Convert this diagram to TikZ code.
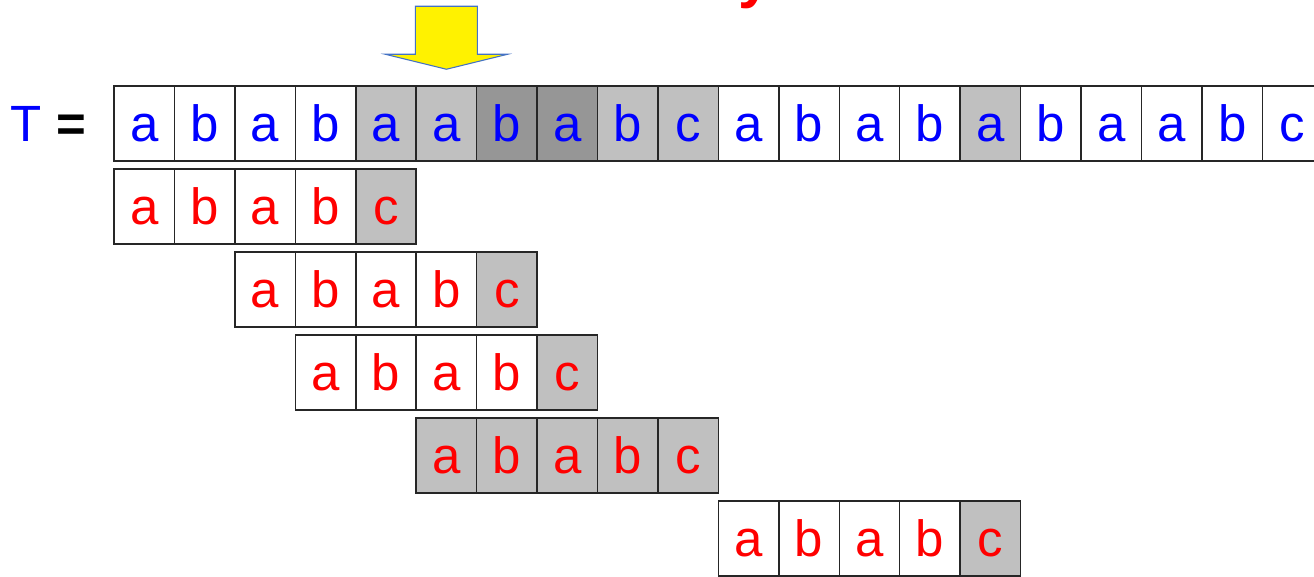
\documentclass[tikz,border=0pt]{standalone}
\usepackage{fontspec}
\setmainfont{Liberation Sans}
\definecolor{lightgrey}{HTML}{C0C0C0}
\definecolor{darkgrey}{HTML}{969696}
\definecolor{arrowblue}{HTML}{4472C4}
\definecolor{pureblue}{RGB}{0,0,255}
\definecolor{purered}{RGB}{255,0,0}

\tikzset{
  cell/.style={draw=black!85, line width=0.7pt, minimum width=1cm,
    minimum height=1.24cm, inner sep=0pt, text height=0.6cm, text depth=0pt,
    font=\fontsize{24}{28}\selectfont},
  txtcell/.style={cell, text=pureblue},
  patcell/.style={cell, text=purered},
}

\begin{document}
\begin{tikzpicture}
    % Page frame
    \useasboundingbox[fill=white] (0,0) rectangle (21.74,-9.53);

    % Cut-off title letter at the top
    \node (title) at (12.5,0.06) [anchor=base, text=purered, font=\bfseries\fontsize{28}{32}\selectfont] {y};

    % Text row
    \node (tlabel) at (0.8,-2.043) [text height=0.6cm, text depth=0pt, font=\fontsize{24}{28}\selectfont]
      {\textcolor{pureblue}{T} \textbf{=}};
    \foreach \ch/\shade [count=\i from 0] in {a/white,b/white,a/white,b/white,a/lightgrey,
        a/lightgrey,b/darkgrey,a/darkgrey,b/lightgrey,c/lightgrey,a/white,b/white,a/white,
        b/white,a/lightgrey,b/white,a/white,a/white,b/white,c/white}
      \node (t\i) at (2.386+\i,-2.043) [txtcell, fill=\shade] {\ch};

    % Pattern rows (row / shift)
    \foreach \r/\s in {1/0,2/2,3/3,4/5,5/10} {
      \foreach \ch [count=\j from 0] in {a,b,a,b,c} {
        \def\shade{white}
        \ifnum\j=4 \def\shade{lightgrey}\fi
        \ifnum\r=4 \def\shade{lightgrey}\fi
        \node (p\r-\j) at (2.386+\s+\j,-2.043-1.373*\r) [patcell, fill=\shade] {\ch};
      }
    }

    % Yellow block arrow above t5
    \coordinate (sl) at ([yshift=1.307cm]t5.north west);
    \coordinate (sr) at ([yshift=1.307cm]t5.north east);
    \coordinate (tip) at ([yshift=0.265cm]t5.north);
    \draw[draw=arrowblue, line width=0.5pt, fill=yellow]
      (sl) -- (sr) -- ++(0,-0.794) -- ++(0.5,0) -- (tip)
      -- ([xshift=-0.5cm,yshift=-0.794cm]sl) -- ++(0.5,0) -- cycle;
\end{tikzpicture}
\end{document}
